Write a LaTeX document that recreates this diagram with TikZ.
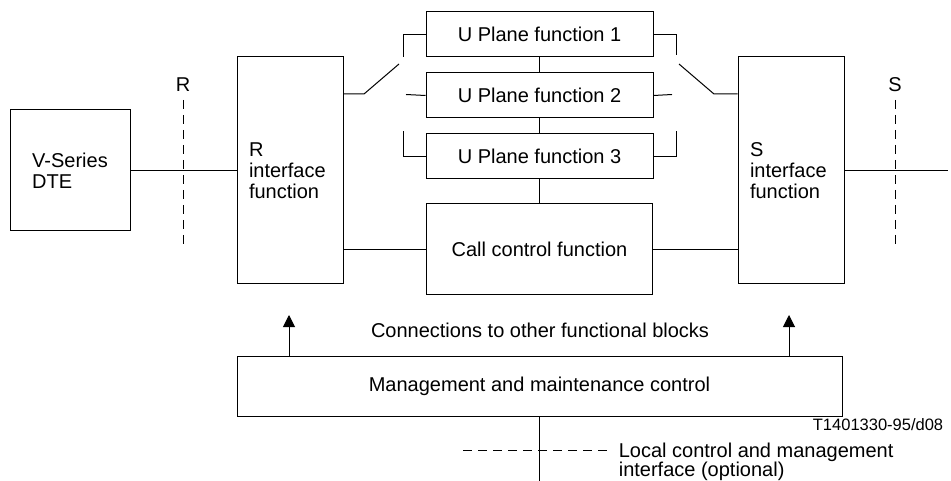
\documentclass[tikz,border=0pt]{standalone}
\usepackage{fontspec}
\setmainfont{Liberation Sans}
\usetikzlibrary{positioning, arrows.meta}

\begin{document}
\begin{tikzpicture}[
    x=1pt, y=-1pt,
    line width=1pt,
    every node/.style={font=\fontsize{20}{21}\selectfont},
    block/.style={draw, inner sep=0pt, align=center},
    dtebox/.style={block, minimum width=120pt, minimum height=121pt, align=left},
    ifbox/.style={draw, align=left, text width=82pt, inner xsep=12pt, inner ysep=0pt, minimum height=227pt},
    uplane/.style={block, minimum width=227pt, minimum height=45pt},
    refline/.style={dashed, dash pattern=on 9pt off 6pt},
    uparrow/.style={-{Triangle[length=12pt, width=12pt]}}
]
\useasboundingbox (0,0) rectangle (951,481);

% Terminal and interface blocks
\node[dtebox] (dte) at (70,170.5) {V-Series\\DTE};
\node[ifbox, right=106pt of dte] (rif) {R\\interface\\function};
\node[ifbox, right=394pt of rif] (sif) {S\\interface\\function};

% U plane functions and call control
\node[uplane] (upl1) at (539.5,34.5) {U Plane function 1};
\node[uplane, below=15pt of upl1] (upl2) {U Plane function 2};
\node[uplane, below=15pt of upl2] (upl3) {U Plane function 3};
\node[block, minimum width=226pt, minimum height=91pt, below=24pt of upl3] (call) {Call control function};

% Management block
\node[block, minimum width=605pt, minimum height=60pt, below=60pt of call] (mgmt) {Management and maintenance control};

% Reference points R and S
\node (rlab) at (183,85) {R};
\node (slab) at (895,85) {S};
\coordinate (rtop) at (183,100);
\coordinate (rbot) at (183,247);
\coordinate (sdtop) at (895,100);
\coordinate (sdbot) at (895,247);
\coordinate (sout) at (948,170.5);
\draw[refline] (rtop) -- (rbot);
\draw[refline] (sdtop) -- (sdbot);

% Main connections
\draw (dte) -- (rif);
\draw (sif) -- (sout);
\draw (rif.east |- call) -- (call);
\draw (call) -- (sif.west |- call);
\draw (upl1) -- (upl2);
\draw (upl2) -- (upl3);
\draw (upl3) -- (call);

% Left switch
\coordinate (lpole) at (364,94);
\coordinate (lblade) at (399,64);
\coordinate (lc1) at (403,57);
\coordinate (lc2) at (406,94.5);
\coordinate (lc3) at (403,131);
\draw (rif.east |- lpole) -- (lpole) -- (lblade);
\draw (upl1.west) -| (lc1);
\draw (upl2.west) -- (lc2);
\draw (upl3.west) -| (lc3);

% Right switch
\coordinate (rpole) at (714,94);
\coordinate (rblade) at (679,64);
\coordinate (rc1) at (676,55);
\coordinate (rc2) at (672,94.5);
\coordinate (rc3) at (676,131);
\draw (sif.west |- rpole) -- (rpole) -- (rblade);
\draw (upl1.east) -| (rc1);
\draw (upl2.east) -- (rc2);
\draw (upl3.east) -| (rc3);

% Connections to other blocks
\coordinate (ra) at (289,315);
\coordinate (sa) at (789,315);
\draw[uparrow] (mgmt.north -| ra) -- (ra);
\draw[uparrow] (mgmt.north -| sa) -- (sa);
\node (conn) at (540,330) {Connections to other functional blocks};

% Local control interface
\coordinate (mbot) at (539.5,481);
\draw (mgmt) -- (mbot);
\coordinate (lcl) at (463,450);
\coordinate (lcr) at (610,450);
\draw[refline] (lcl) -- (lcr);
\node[anchor=west, align=left, font=\fontsize{20}{19}\selectfont] (lcm) at (615,462) {Local control and management\\interface (optional)};
\node[anchor=base east, font=\fontsize{16.5}{18}\selectfont] (tag) at (947,430) {T1401330-95/d08};

\end{tikzpicture}
\end{document}
